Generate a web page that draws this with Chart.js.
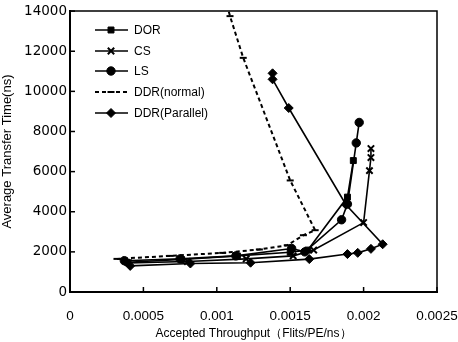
<!DOCTYPE html>
<html><head><meta charset="utf-8">
<script src="https://cdn.jsdelivr.net/npm/chart.js@4.4.0/dist/chart.umd.min.js"></script>
<style>html,body{margin:0;padding:0;background:#fff}canvas{display:block}</style>
</head><body>
<canvas id="c" width="458" height="342"></canvas>
<script>
// ---- data ----
const seriesNames = ['DOR', 'CS', 'LS', 'DDR(normal)', 'DDR(Parallel)'];

const dorX = [0.00039, 0.00076, 0.00114, 0.00150, 0.00162, 0.00189, 0.00193];
const dorY = [1480, 1620, 1800, 1980, 2090, 4730, 6550];

const csX = [0.00040, 0.00080, 0.00120, 0.00152, 0.00166, 0.00200, 0.00204, 0.00205, 0.00205];
const csY = [1450, 1520, 1650, 1800, 2090, 3460, 6050, 6700, 7150];

const lsX = [0.00037, 0.00075, 0.00113, 0.00151, 0.00160, 0.00185, 0.00189, 0.00195, 0.00197];
const lsY = [1560, 1650, 1800, 2170, 2000, 3600, 4380, 7430, 8450];

const ddrNX = [0.00032, 0.00068, 0.00104, 0.00129, 0.00148, 0.00159, 0.00167, 0.00150, 0.00118, 0.00109, 0.00107];
const ddrNY = [1650, 1800, 1950, 2120, 2330, 2830, 3080, 5560, 11670, 13750, 14300];

const ddrPX = [0.00041, 0.00082, 0.00123, 0.00163, 0.00189, 0.00196, 0.00205, 0.00213, 0.00188, 0.00149, 0.00138, 0.00138];
const ddrPY = [1300, 1420, 1460, 1640, 1890, 1950, 2150, 2380, 4350, 9170, 10600, 10900];

const xTickLabels = ['0', '0.0005', '0.001', '0.0015', '0.002', '0.0025'];
const yTickLabels = ['0', '2000', '4000', '6000', '8000', '10000', '12000', '14000'];

const xTitle = 'Accepted Throughput（Flits/PE/ns）';
const yTitle = 'Average Transfer Time(ns)';

function pts(xs, ys) { return xs.map((x, i) => ({ x: x, y: ys[i] })); }

const styles = [
  { pointStyle: 'rect', pointRadius: 4.2, borderDash: [] },
  { pointStyle: 'crossRot', pointRadius: 4.5, borderDash: [] },
  { pointStyle: 'circle', pointRadius: 4.2, borderDash: [] },
  { pointStyle: 'line', pointRadius: 3.5, borderDash: [4, 3] },
  { pointStyle: 'rectRot', pointRadius: 4.5, borderDash: [] }
];
const allData = [pts(dorX, dorY), pts(csX, csY), pts(lsX, lsY), pts(ddrNX, ddrNY), pts(ddrPX, ddrPY)];

const datasets = seriesNames.map((n, i) => ({
  label: n,
  data: allData[i],
  showLine: true,
  borderColor: '#000',
  backgroundColor: '#000',
  borderWidth: i === 3 ? 2 : 1.6,
  borderDash: styles[i].borderDash,
  pointStyle: styles[i].pointStyle,
  pointRadius: styles[i].pointRadius,
  pointBorderWidth: i === 1 || i === 3 ? 2 : 1,
  pointBackgroundColor: '#000',
  pointBorderColor: '#000',
  tension: 0
}));

const frame = {
  id: 'frame',
  afterDraw(chart) {
    const { ctx, chartArea: a, scales } = chart;
    ctx.save();
    ctx.strokeStyle = '#000';
    ctx.lineWidth = 1.5;
    ctx.setLineDash([]);
    ctx.beginPath();
    ctx.moveTo(a.left, a.top); ctx.lineTo(a.right, a.top); ctx.lineTo(a.right, a.bottom);
    ctx.stroke();
    scales.x.ticks.forEach(t => {
      const px = scales.x.getPixelForValue(t.value);
      ctx.beginPath(); ctx.moveTo(px, a.bottom); ctx.lineTo(px, a.bottom - 5); ctx.stroke();
    });
    scales.y.ticks.forEach(t => {
      const py = scales.y.getPixelForValue(t.value);
      ctx.beginPath(); ctx.moveTo(a.left, py); ctx.lineTo(a.left + 5, py); ctx.stroke();
    });
    // legend
    const ys = [30, 51, 71, 92, 113];
    chart.data.datasets.forEach((ds, i) => {
      const y = ys[i];
      ctx.lineWidth = ds.borderWidth;
      ctx.setLineDash(ds.borderDash || []);
      ctx.beginPath(); ctx.moveTo(95, y); ctx.lineTo(128, y); ctx.stroke();
      ctx.setLineDash([]);
      ctx.fillStyle = '#000';
      ctx.lineWidth = ds.pointBorderWidth;
      Chart.helpers.drawPoint(ctx, { pointStyle: ds.pointStyle, radius: ds.pointRadius, borderWidth: ds.pointBorderWidth, rotation: 0 }, 111, y);
      ctx.font = '12px "Liberation Sans", Arial, sans-serif';
      ctx.textBaseline = 'middle';
      ctx.textAlign = 'left';
      ctx.fillText(ds.label, 134, y + 1);
    });
    ctx.restore();
  }
};

new Chart(document.getElementById('c'), {
  type: 'scatter',
  data: { datasets },
  options: {
    responsive: false,
    animation: false,
    devicePixelRatio: 1,
    layout: { padding: { top: 10, right: 0, left: 0, bottom: 0 } },
    plugins: { legend: { display: false }, tooltip: { enabled: false } },
    scales: {
      x: {
        type: 'linear', min: 0, max: 0.0025,
        afterFit(s) { s.height = 50; s.paddingRight = 21; s.paddingLeft = 0; },
        grid: { display: false, drawTicks: false },
        border: { display: true, color: '#000', width: 2 },
        ticks: {
          stepSize: 0.0005, padding: 16, color: '#000',
          font: { family: '"Liberation Sans", Arial, sans-serif', size: 13.5 },
          callback: (v, i) => xTickLabels[i]
        },
        title: { display: true, text: xTitle, color: '#000', padding: { top: 2, bottom: 1 },
          font: { family: '"Liberation Sans", Arial, sans-serif', size: 12 } }
      },
      y: {
        type: 'linear', min: 0, max: 14000,
        afterFit(s) { s.width = 70; },
        grid: { display: false, drawTicks: false },
        border: { display: true, color: '#000', width: 2 },
        ticks: {
          stepSize: 2000, padding: 3, color: '#000',
          font: { family: '"DejaVu Sans", sans-serif', size: 13.5 },
          callback: (v, i) => yTickLabels[i]
        },
        title: { display: true, text: yTitle, color: '#000', padding: { top: 0, bottom: 2 },
          font: { family: '"Liberation Sans", Arial, sans-serif', size: 13 } }
      }
    }
  },
  plugins: [frame]
});
</script>
</body></html>
